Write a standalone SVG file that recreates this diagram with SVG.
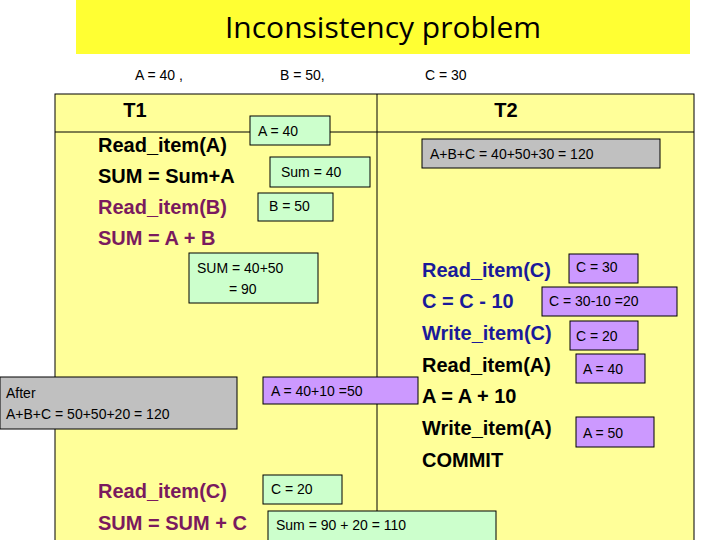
<svg xmlns="http://www.w3.org/2000/svg" width="720" height="540" viewBox="0 0 720 540">
<style>
.op{font-family:"Liberation Sans",Arial,sans-serif;font-weight:bold;font-size:20px}
.k{fill:#000}.p{fill:#7a1a5e}.b{fill:#1a1a9a}
.bx{stroke:#000;stroke-width:1}
.g{fill:#ccffcc}.v{fill:#cc99ff}.gr{fill:#c0c0c0}
.t{font-family:"Liberation Sans",Arial,sans-serif;font-size:14px;fill:#000}
</style>
<rect width="720" height="540" fill="#fff"/>
<g id="title"><rect x="76" y="0" width="614" height="54" fill="#ffff33"/>
<text x="383" y="38" text-anchor="middle" font-family="Open Sans,sans-serif" font-size="30">Inconsistency problem</text></g>
<g id="init" class="t"><text x="135" y="80">A = 40 ,</text><text x="280" y="80">B = 50,</text><text x="425" y="80">C = 30</text></g>
<g id="table"><rect x="55" y="94" width="639" height="460" fill="#ffff99" stroke="#000"/>
<line x1="55" y1="132" x2="694" y2="132" stroke="#000"/><line x1="377" y1="94" x2="377" y2="540" stroke="#000"/>
<text class="op k" x="135" y="117" text-anchor="middle">T1</text><text class="op k" x="506" y="117" text-anchor="middle">T2</text></g>
<g id="t1ops">
<text class="op k" x="98" y="152">Read_item(A)</text>
<text class="op k" x="98" y="183">SUM = Sum+A</text>
<text class="op p" x="98" y="214">Read_item(B)</text>
<text class="op p" x="98" y="245">SUM = A + B</text>
<text class="op p" x="98" y="498">Read_item(C)</text>
<text class="op p" x="98" y="530">SUM = SUM + C</text></g>
<g id="t2ops">
<text class="op b" x="422" y="277">Read_item(C)</text>
<text class="op b" x="422" y="308">C = C - 10</text>
<text class="op b" x="422" y="340">Write_item(C)</text>
<text class="op k" x="422" y="372">Read_item(A)</text>
<text class="op k" x="422" y="403">A = A + 10</text>
<text class="op k" x="422" y="435">Write_item(A)</text>
<text class="op k" x="422" y="467">COMMIT</text></g>
<g id="boxes">
<rect class="bx g" x="250" y="116" width="80" height="29"/><text class="t" x="258" y="136">A = 40</text>
<rect class="bx g" x="270" y="157" width="100" height="30"/><text class="t" x="281" y="177">Sum = 40</text>
<rect class="bx g" x="258" y="193" width="75" height="28"/><text class="t" x="269" y="211">B = 50</text>
<rect class="bx g" x="189" y="253" width="129" height="50"/><text class="t" x="197" y="273">SUM = 40+50</text><text class="t" x="229" y="294">= 90</text>
<rect class="bx gr" x="422" y="139" width="238" height="29"/><text class="t" x="430" y="159">A+B+C = 40+50+30 = 120</text>
<rect class="bx v" x="569" y="254" width="69" height="29"/><text class="t" x="576" y="272">C = 30</text>
<rect class="bx v" x="542" y="287" width="135" height="29"/><text class="t" x="549" y="306">C = 30-10 =20</text>
<rect class="bx v" x="570" y="321" width="68" height="29"/><text class="t" x="576" y="341">C = 20</text>
<rect class="bx v" x="576" y="354" width="69" height="29"/><text class="t" x="583" y="374">A = 40</text>
<rect class="bx gr" x="0" y="377" width="237" height="52"/><text class="t" x="6" y="398">After</text><text class="t" x="6" y="419">A+B+C = 50+50+20 = 120</text>
<rect class="bx v" x="263" y="377" width="155" height="27"/><text class="t" x="271" y="396">A = 40+10 =50</text>
<rect class="bx v" x="576" y="417" width="78" height="30"/><text class="t" x="583" y="438">A = 50</text>
<rect class="bx g" x="263" y="475" width="79" height="29"/><text class="t" x="271" y="494">C = 20</text>
<rect class="bx g" x="268" y="511" width="228" height="32"/><text class="t" x="276" y="530">Sum = 90 + 20 = 110</text>
</g>
</svg>
